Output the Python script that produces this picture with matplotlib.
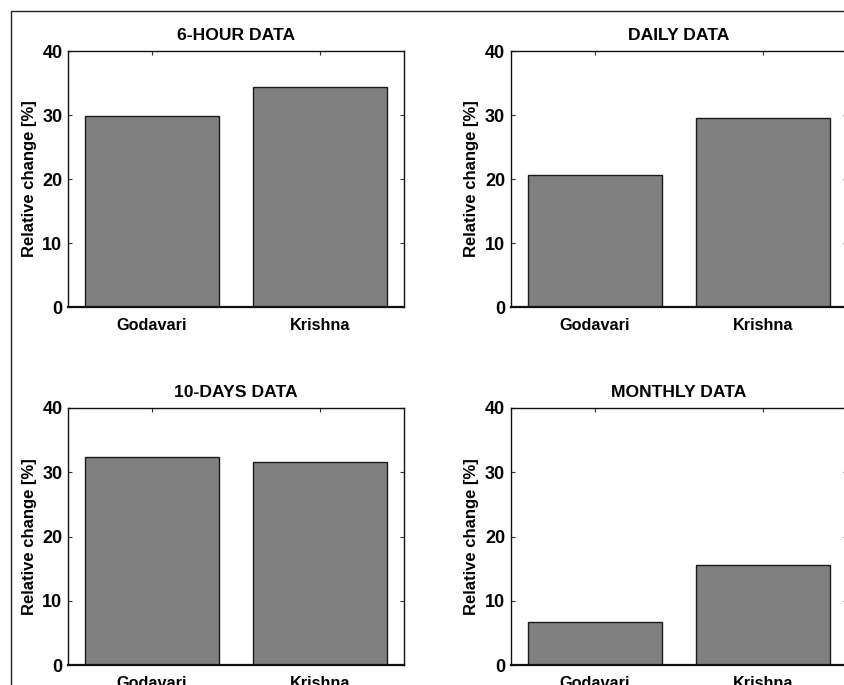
import matplotlib
matplotlib.use("Agg")
import matplotlib.pyplot as plt
from matplotlib.patches import Rectangle

plt.rcParams['font.family'] = ['Liberation Sans', 'DejaVu Sans']
plt.rcParams['font.weight'] = 'bold'

basins = ["Godavari", "Krishna"]
titles = ["6-HOUR DATA", "DAILY DATA", "10-DAYS DATA", "MONTHLY DATA"]
values_6hour = [29.9, 34.4]
values_daily = [20.7, 29.6]
values_10days = [32.3, 31.6]
values_monthly = [6.7, 15.6]
all_values = [values_6hour, values_daily, values_10days, values_monthly]
yticks = [0, 10, 20, 30, 40]
ylabel = "Relative change [%]"

W, H = 844, 685
fig = plt.figure(figsize=(W / 100, H / 100), dpi=100)

# outer frame (figure partially cropped at right/bottom)
fig.patches.append(Rectangle((11 / W, -0.05), 1.2, 1 - 11 / H + 0.05,
                             transform=fig.transFigure, fill=False,
                             edgecolor='#222222', linewidth=1.0))

lefts = [68 / W, 510.7 / W]
aw = 336 / W
rows = [(1 - 307 / H, 256 / H), (1 - 665 / H, 257 / H)]

for i, (title, vals) in enumerate(zip(titles, all_values)):
    r, c = divmod(i, 2)
    bottom, ah = rows[r]
    ax = fig.add_axes([lefts[c], bottom, aw, ah])
    x = list(range(1, len(basins) + 1))
    ax.bar(x, vals, width=0.8, color='#808080', edgecolor='#1a1a1a', linewidth=1.0, zorder=2)
    ax.set_xlim(0.5, 2.5)
    ax.set_ylim(0, 40)
    ax.set_yticks(yticks)
    ax.set_xticks(x)
    ax.set_xticklabels(basins, fontsize=11.7, fontweight='bold')
    ax.set_yticklabels([str(t) for t in yticks], fontsize=13, fontweight='bold')
    ax.tick_params(direction='in', length=3, width=0.8, top=True, right=True, color='#333333')
    ax.tick_params(axis='x', pad=8)
    ax.tick_params(axis='y', pad=4)
    ax.set_title(title, fontsize=12.6, fontweight='bold', pad=8)
    ax.set_ylabel(ylabel, fontsize=12, fontweight='bold', labelpad=4)
    for s in ax.spines.values():
        s.set_linewidth(1.0)
        s.set_color('#111111')
    ax.spines['bottom'].set_linewidth(1.6)

fig.savefig("out.png", dpi=100)
